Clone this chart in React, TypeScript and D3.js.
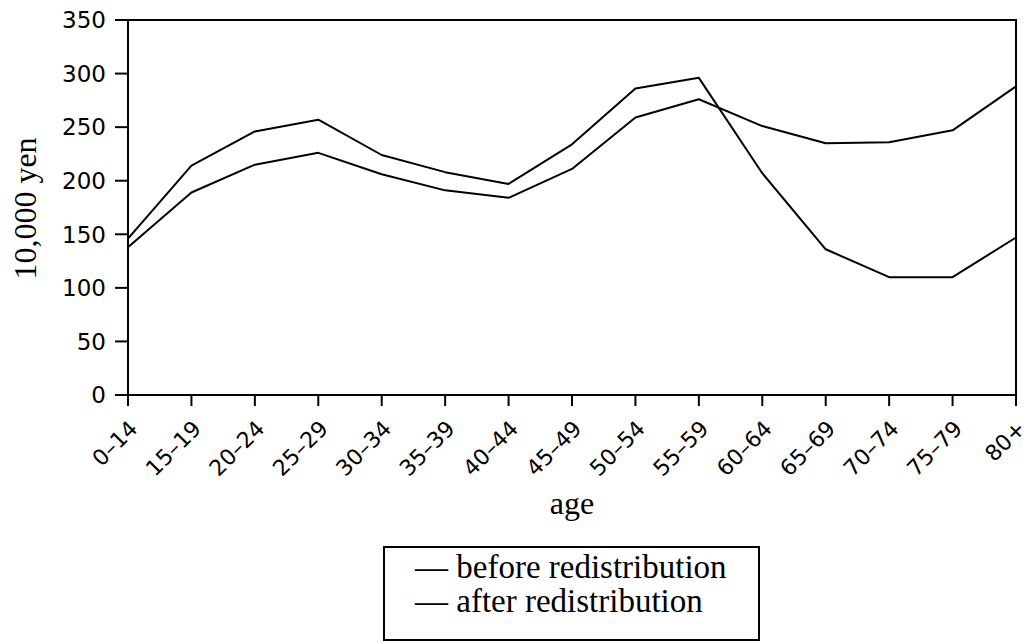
import React from "react";
import * as d3 from "d3";

const ageGroups = ["0–14", "15–19", "20–24", "25–29", "30–34", "35–39", "40–44", "45–49", "50–54", "55–59", "60–64", "65–69", "70–74", "75–79", "80+"];
const beforeRedistribution = [146, 214, 246, 257, 224, 208, 197, 234, 286, 296, 207, 136, 110, 110, 147];
const afterRedistribution = [138, 189, 215, 226, 206, 191, 184, 211, 259, 276, 251, 235, 236, 247, 288];
const yTicks = [0, 50, 100, 150, 200, 250, 300, 350];
const legendLabels = ["before redistribution", "after redistribution"];

const W = 1034, H = 642;
const L = 128, R = 1016, T = 20, B = 395;
const sans = "'DejaVu Sans', 'Liberation Sans', Arial, sans-serif";
const serif = "'Liberation Serif', 'Times New Roman', serif";

export default function App() {
  const x = d3.scalePoint<string>().domain(ageGroups).range([L, R]);
  const y = d3.scaleLinear().domain([0, 350]).range([B, T]);
  const line = d3.line<number>().x((_, i) => x(ageGroups[i]) as number).y(d => y(d));
  const series = [beforeRedistribution, afterRedistribution];
  return (
    <svg width={W} height={H} style={{ position: "absolute", left: 0, top: 0, background: "#fff" }}>
      <rect x={0} y={0} width={W} height={H} fill="#fff" />
      {series.map((s, i) => (
        <path key={i} d={line(s) || ""} fill="none" stroke="#000" strokeWidth={2} strokeLinejoin="round" />
      ))}
      {/* frame */}
      <rect x={L} y={T} width={R - L} height={B - T} fill="none" stroke="#000" strokeWidth={2} />
      {/* y ticks */}
      {yTicks.map(t => (
        <g key={t}>
          <line x1={L - 13} x2={L} y1={y(t)} y2={y(t)} stroke="#000" strokeWidth={2} />
          <text x={106} y={y(t)} dy="0.36em" textAnchor="end" fontFamily={sans} fontSize={23} fill="#000">{t}</text>
        </g>
      ))}
      {/* x ticks */}
      {ageGroups.map(a => (
        <g key={a}>
          <line x1={x(a)} x2={x(a)} y1={B} y2={B + 11} stroke="#000" strokeWidth={2} />
          <text transform={`translate(${(x(a) as number) + 11},${430}) rotate(-45)`} textAnchor="end" fontFamily={sans} fontSize={22} fill="#000">{a}</text>
        </g>
      ))}
      <text x={(L + R) / 2} y={514} textAnchor="middle" fontFamily={serif} fontSize={32} fill="#000">age</text>
      <text transform={`translate(36,${(T + B) / 2 + 1}) rotate(-90)`} textAnchor="middle" fontFamily={serif} fontSize={32} fill="#000">10,000 yen</text>
      {/* legend */}
      <rect x={384} y={547} width={375} height={93} fill="none" stroke="#000" strokeWidth={2} />
      {legendLabels.map((lab, i) => (
        <text key={lab} x={415} y={578 + i * 34} fontFamily={serif} fontSize={33} fill="#000">{"— " + lab}</text>
      ))}
    </svg>
  );
}
